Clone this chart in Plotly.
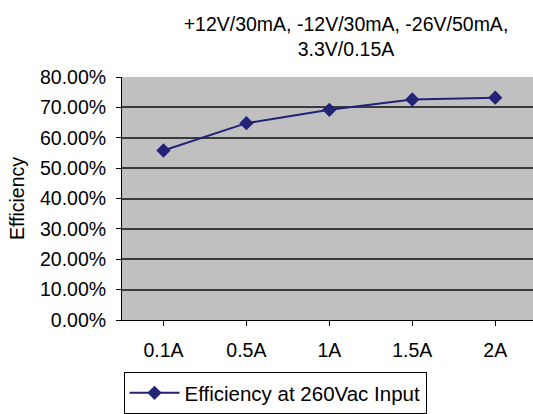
import plotly.graph_objects as go

categories = ["0.1A", "0.5A", "1A", "1.5A", "2A"]
efficiency = [0.558, 0.648, 0.692, 0.726, 0.732]
y_ticks = [0, 0.1, 0.2, 0.3, 0.4, 0.5, 0.6, 0.7, 0.8]

FONT = "Liberation Sans, Arial, sans-serif"
FS = 19.5

fig = go.Figure()
fig.add_trace(go.Scatter(
    x=list(range(len(categories))), y=efficiency,
    mode="lines+markers",
    name="Efficiency at 260Vac Input",
    line=dict(color="#222277", width=2),
    marker=dict(symbol="diamond", size=11, color="#222277"),
))

fig.update_layout(
    width=533, height=414,
    margin=dict(l=122, r=0, t=77, b=94),
    paper_bgcolor="white",
    plot_bgcolor="#C0C0C0",
    font=dict(family=FONT, size=FS, color="black"),
    title=dict(
        text="+12V/30mA, -12V/30mA, -26V/50mA,<br>3.3V/0.15A",
        x=346 / 533, xref="container", xanchor="center",
        y=1 - 31 / 414, yref="container", yanchor="middle",
        font=dict(size=FS, family=FONT, color="black"),
    ),
    showlegend=True,
    legend=dict(
        orientation="h",
        x=275 / 533, xref="container", xanchor="center",
        y=0, yref="container", yanchor="bottom",
        bordercolor="black", borderwidth=1,
        font=dict(size=20.5, family=FONT),
        bgcolor="white",
        itemwidth=50,
    ),
)

fig.update_xaxes(
    range=[-0.5, -0.5 + (533 - 122.7) / 82.8],
    tickmode="array",
    tickvals=list(range(len(categories))),
    ticktext=categories,
    tickson="boundaries",
    ticks="outside", ticklen=5, tickcolor="black",
    showline=True, linecolor="black", linewidth=1,
    showgrid=False, zeroline=False,
    ticklabelstandoff=8,
    tickfont=dict(size=FS),
)

fig.update_yaxes(
    range=[0, 0.8],
    tickmode="array",
    tickvals=y_ticks,
    tickformat=".2%",
    ticks="outside", ticklen=5, tickcolor="black",
    showline=True, linecolor="black", linewidth=1,
    showgrid=True, gridcolor="#3a3a3a", gridwidth=1.5,
    zeroline=False,
    ticklabelstandoff=6,
    tickfont=dict(size=FS),
    title=dict(text="Efficiency", standoff=10, font=dict(size=FS)),
)

fig.write_html("out.html")
